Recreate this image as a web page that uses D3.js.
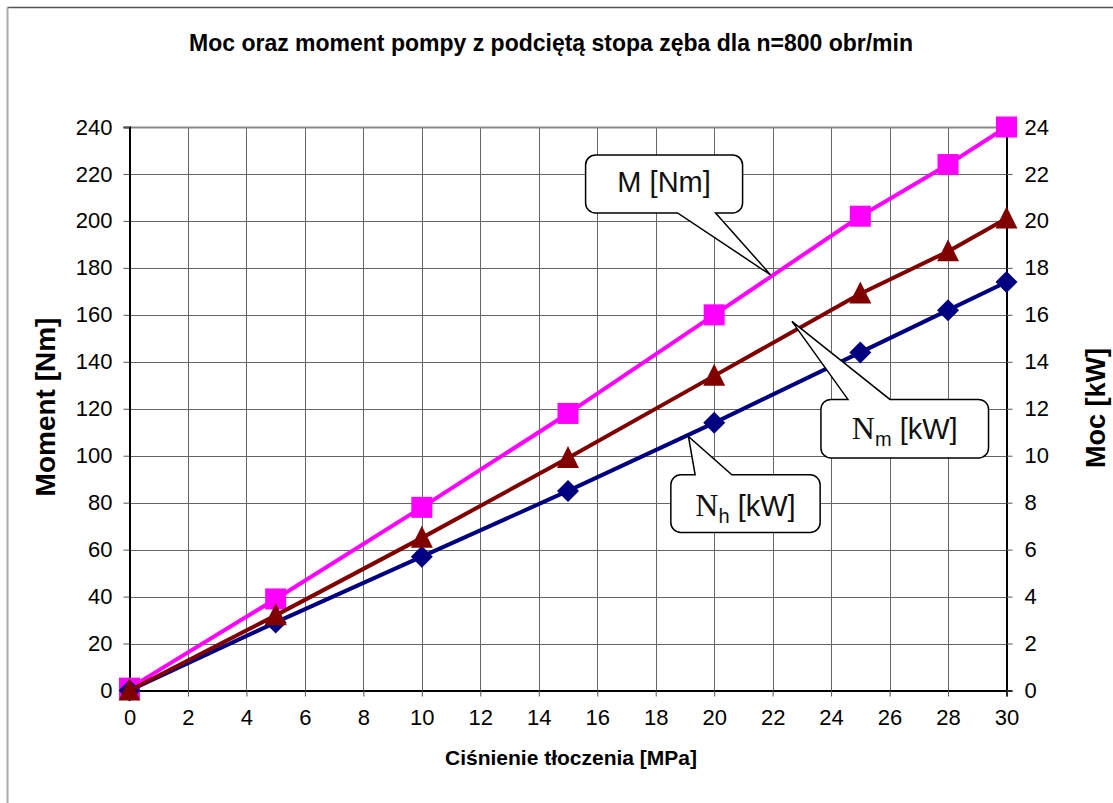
<!DOCTYPE html>
<html>
<head>
<meta charset="utf-8">
<script src="https://cdn.jsdelivr.net/npm/d3@7"></script>
<style>
  html, body { margin: 0; padding: 0; background: #fff; }
  svg { display: block; font-family: "Liberation Sans", Arial, sans-serif; }
</style>
</head>
<body>
<svg id="chart" width="1113" height="803"></svg>
<script>
// Pressure values [MPa]
const pressure = [0, 5, 10, 15, 20, 25, 28, 30];
// Torque M [Nm] (left axis)
const torqueM = [1, 39, 78, 118, 160, 202, 224, 240];
// Mechanical power Nm [kW] (right axis)
const powerNm = [0, 3.2, 6.5, 9.9, 13.4, 16.9, 18.7, 20.1];
// Hydraulic power Nh [kW] (right axis)
const powerNh = [0, 2.9, 5.7, 8.5, 11.4, 14.4, 16.2, 17.4];

const xTicks = d3.range(0, 31, 2);
const yLeftTicks = d3.range(0, 241, 20);
const yRightTicks = d3.range(0, 25, 2);

const titleText = "Moc oraz moment pompy z podciętą stopa zęba dla n=800 obr/min";
const xTitle = "Ciśnienie tłoczenia [MPa]";
const yLeftTitle = "Moment [Nm]";
const yRightTitle = "Moc [kW]";

const svg = d3.select("#chart");
const plot = { left: 129.5, right: 1006.5, top: 127, bottom: 690.5 };

const x = d3.scaleLinear().domain([0, 30]).range([plot.left, plot.right]);
const yL = d3.scaleLinear().domain([0, 240]).range([plot.bottom, plot.top]);
const yR = d3.scaleLinear().domain([0, 24]).range([plot.bottom, plot.top]);

// outer frame of the chart area
svg.append("line").attr("x1", 7.5).attr("y1", 7.5).attr("x2", 1113).attr("y2", 7.5)
  .attr("stroke", "#555").attr("stroke-width", 1.5);
svg.append("line").attr("x1", 7.5).attr("y1", 7.5).attr("x2", 7.5).attr("y2", 803)
  .attr("stroke", "#aaa").attr("stroke-width", 2);

// title
svg.append("text").attr("x", 551).attr("y", 51).attr("text-anchor", "middle")
  .attr("font-size", 23).attr("font-weight", "bold").text(titleText);

// grid
const grid = svg.append("g").attr("stroke", "#666").attr("stroke-width", 1);
grid.selectAll("line.v").data(xTicks.filter(d => d > 0 && d < 30)).join("line")
  .attr("x1", d => Math.round(x(d)) + 0.5).attr("x2", d => Math.round(x(d)) + 0.5)
  .attr("y1", plot.top).attr("y2", plot.bottom);
grid.selectAll("line.h").data(yLeftTicks.filter(d => d > 0)).join("line")
  .attr("x1", plot.left).attr("x2", plot.right)
  .attr("y1", d => Math.round(yL(d)) + 0.5).attr("y2", d => Math.round(yL(d)) + 0.5)
  .attr("stroke", d => d === 240 ? "#888" : "#666")
  .attr("stroke-width", d => d === 240 ? 2 : 1);

// axes
function styleAxis(g) {
  g.selectAll("path.domain").attr("stroke", "#000").attr("stroke-width", 2);
  g.selectAll(".tick line").attr("stroke", "#555").attr("stroke-width", 1);
  g.selectAll(".tick text").attr("font-size", 22).attr("fill", "#000")
    .attr("font-family", "Liberation Sans, Arial, sans-serif");
}
svg.append("g").attr("transform", `translate(0,${plot.bottom})`)
  .call(d3.axisBottom(x).tickValues(xTicks).tickSizeOuter(0).tickSize(6).tickPadding(13).tickFormat(d3.format("d")))
  .call(styleAxis);
svg.append("g").attr("transform", `translate(${plot.left},0)`)
  .call(d3.axisLeft(yL).tickValues(yLeftTicks).tickSizeOuter(0).tickSize(6).tickPadding(11).tickFormat(d3.format("d")))
  .call(styleAxis);
svg.append("g").attr("transform", `translate(${plot.right},0)`)
  .call(d3.axisRight(yR).tickValues(yRightTicks).tickSizeOuter(0).tickSize(6).tickPadding(12).tickFormat(d3.format("d")))
  .call(styleAxis);

// axis titles
svg.append("text").attr("transform", `translate(55,407) rotate(-90)`).attr("text-anchor", "middle")
  .attr("font-size", 28).attr("font-weight", "bold").text(yLeftTitle);
svg.append("text").attr("transform", `translate(1105,408) rotate(-90)`).attr("text-anchor", "middle")
  .attr("font-size", 27).attr("font-weight", "bold").text(yRightTitle);
svg.append("text").attr("x", 571).attr("y", 765).attr("text-anchor", "middle")
  .attr("font-size", 21).attr("font-weight", "bold").text(xTitle);

// series
const markers = {
  square: s => `M${-s / 2},${-s / 2}h${s}v${s}h${-s}Z`,
  triangle: s => `M0,${-s * 0.55}L${s / 2},${s * 0.45}L${-s / 2},${s * 0.45}Z`,
  diamond: s => `M0,${-s / 2}L${s / 2},0L0,${s / 2}L${-s / 2},0Z`
};
const series = [
  { values: torqueM, y: yL, color: "#ff00ff", marker: "square", size: 21 },
  { values: powerNh, y: yR, color: "#000080", marker: "diamond", size: 22 },
  { values: powerNm, y: yR, color: "#800000", marker: "triangle", size: 22 }
];
series.forEach(s => {
  const pts = pressure.map((p, i) => [p, s.values[i]]);
  svg.append("path").datum(pts)
    .attr("d", d3.line().x(d => x(d[0])).y(d => s.y(d[1])))
    .attr("fill", "none").attr("stroke", s.color).attr("stroke-width", 4)
    .attr("stroke-linejoin", "round");
  svg.append("g").selectAll("path").data(pts).join("path")
    .attr("transform", d => `translate(${x(d[0])},${s.y(d[1])})`)
    .attr("d", markers[s.marker](s.size)).attr("fill", s.color);
});

// callout labels: tip in data units, box offsets in px relative to the tip
const callouts = [
  { tip: [21.93, 177], y: yL, box: [-185, -120, -28, -62], side: "bottom", base: [-93, -55],
    parts: [{ t: "M [Nm]", font: "sans", size: 29 }], baseline: -83 },
  { tip: [22.66, 15.72], y: yR, box: [29, 78, 196.6, 136.6], side: "top", base: [56, 98],
    parts: [{ t: "N", font: "serif", size: 32 }, { t: "m", font: "sans", size: 20, dy: 7 }, { t: " [kW]", font: "sans", size: 29, dy: -7 }], baseline: 118 },
  { tip: [19.12, 10.82], y: yR, box: [-17.6, 38.3, 131.7, 96], side: "top", base: [6.7, 43.4],
    parts: [{ t: "N", font: "serif", size: 32 }, { t: "h", font: "sans", size: 20, dy: 7 }, { t: " [kW]", font: "sans", size: 29, dy: -7 }], baseline: 80 }
];
function calloutPath(x0, y0, x1, y1, r, side, b0, b1, tx, ty) {
  let p = `M${x0 + r},${y0}`;
  if (side === "top") p += `L${b0},${y0}L${tx},${ty}L${b1},${y0}`;
  p += `L${x1 - r},${y0}A${r},${r} 0 0 1 ${x1},${y0 + r}L${x1},${y1 - r}A${r},${r} 0 0 1 ${x1 - r},${y1}`;
  if (side === "bottom") p += `L${b1},${y1}L${tx},${ty}L${b0},${y1}`;
  p += `L${x0 + r},${y1}A${r},${r} 0 0 1 ${x0},${y1 - r}L${x0},${y0 + r}A${r},${r} 0 0 1 ${x0 + r},${y0}Z`;
  return p;
}
callouts.forEach(c => {
  const tx = x(c.tip[0]), ty = c.y(c.tip[1]);
  const [dx0, dy0, dx1, dy1] = c.box;
  const g = svg.append("g");
  g.append("path")
    .attr("d", calloutPath(tx + dx0, ty + dy0, tx + dx1, ty + dy1, 10, c.side, tx + c.base[0], tx + c.base[1], tx, ty))
    .attr("fill", "#fff").attr("stroke", "#000").attr("stroke-width", 1.5).attr("stroke-linejoin", "miter");
  const t = g.append("text").attr("x", tx + (dx0 + dx1) / 2).attr("y", ty + c.baseline)
    .attr("text-anchor", "middle").attr("fill", "#111");
  c.parts.forEach(p => {
    t.append("tspan").attr("font-size", p.size)
      .attr("font-family", p.font === "serif" ? "Liberation Serif, Times New Roman, serif" : "Liberation Sans, Arial, sans-serif")
      .attr("dy", p.dy || 0).text(p.t);
  });
});
</script>
</body>
</html>
